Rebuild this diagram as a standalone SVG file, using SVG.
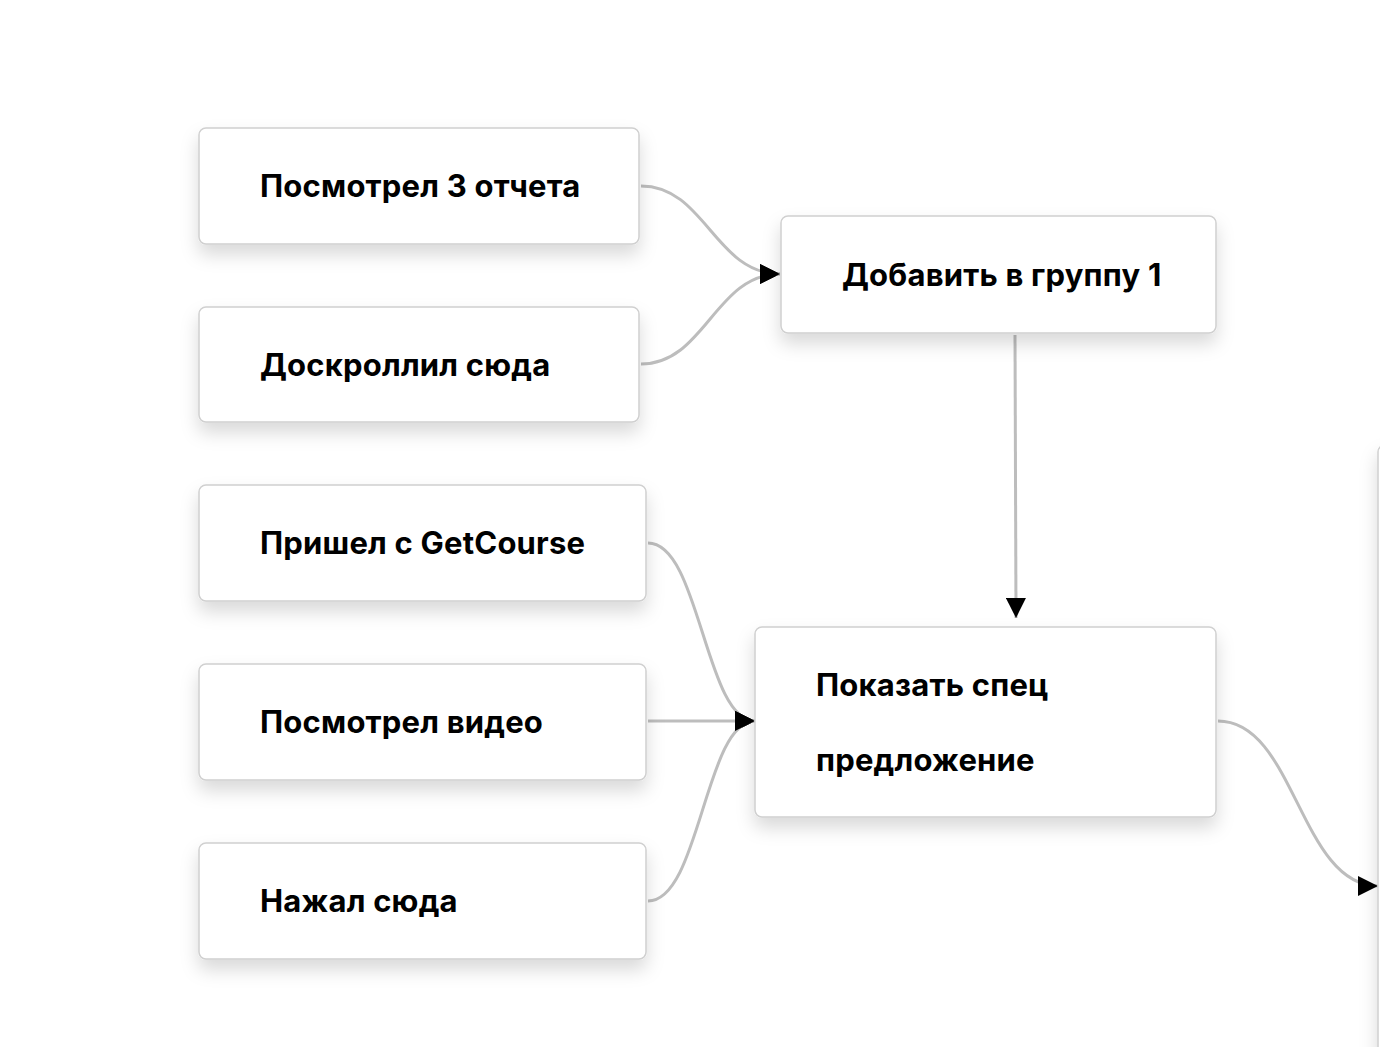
<svg xmlns="http://www.w3.org/2000/svg" width="1380" height="1047" viewBox="0 0 1380 1047">
<defs>
<filter id="sh" x="-20%" y="-30%" width="140%" height="180%">
<feDropShadow dx="0" dy="10" stdDeviation="9" flood-color="#000" flood-opacity="0.15"/>
</filter>
<marker id="arr" viewBox="0 0 20 20" refX="20" refY="10" markerWidth="20" markerHeight="20" markerUnits="userSpaceOnUse" orient="auto">
<path d="M0,0 L20,10 L0,20 Z" fill="#000"/>
</marker>
<style>
.box{fill:#fff;stroke:#d0d0d0;stroke-width:1.5;filter:url(#sh)}
.lbl{font-family:Inter,"Noto Sans",sans-serif;font-weight:700;font-size:31px;letter-spacing:0.2px;fill:#000}
.edge{fill:none;stroke:#bdbdbd;stroke-width:3}
</style>
</defs>
<rect width="1380" height="1047" fill="#fff"/>
<g id="connectors">
<path class="edge" d="M641,186 C705,186 715,274 780,274" marker-end="url(#arr)"/>
<path class="edge" d="M641,364 C705,364 715,274 780,274" marker-end="url(#arr)"/>
<path class="edge" d="M1015,335 L1016,618" marker-end="url(#arr)"/>
<path class="edge" d="M648,543 C700,543 705,721 755,721" marker-end="url(#arr)"/>
<path class="edge" d="M648,721 L755,721" marker-end="url(#arr)"/>
<path class="edge" d="M648,901 C700,901 705,721 755,721" marker-end="url(#arr)"/>
<path class="edge" d="M1218,721 C1295,721 1300,886 1378,886" marker-end="url(#arr)"/>
</g>
<g id="n1"><rect class="box" x="199" y="128" width="440" height="116" rx="7"/><text class="lbl" x="260" y="197">Посмотрел 3 отчета</text></g>
<g id="n2"><rect class="box" x="199" y="307" width="440" height="115" rx="7"/><text class="lbl" x="260" y="376">Доскроллил сюда</text></g>
<g id="n3"><rect class="box" x="199" y="485" width="447" height="116" rx="7"/><text class="lbl" x="260" y="554">Пришел с GetCourse</text></g>
<g id="n4"><rect class="box" x="199" y="664" width="447" height="116" rx="7"/><text class="lbl" x="260" y="733">Посмотрел видео</text></g>
<g id="n5"><rect class="box" x="199" y="843" width="447" height="116" rx="7"/><text class="lbl" x="260" y="912">Нажал сюда</text></g>
<g id="n6"><rect class="box" x="781" y="216" width="435" height="117" rx="7"/><text class="lbl" x="842" y="286">Добавить в группу 1</text></g>
<g id="n7"><rect class="box" x="755" y="627" width="461" height="190" rx="7"/><text class="lbl" x="816" y="696">Показать спец</text><text class="lbl" x="816" y="771">предложение</text></g>
<g id="n8"><rect class="box" x="1378" y="445" width="200" height="700" rx="7"/></g>
</svg>
